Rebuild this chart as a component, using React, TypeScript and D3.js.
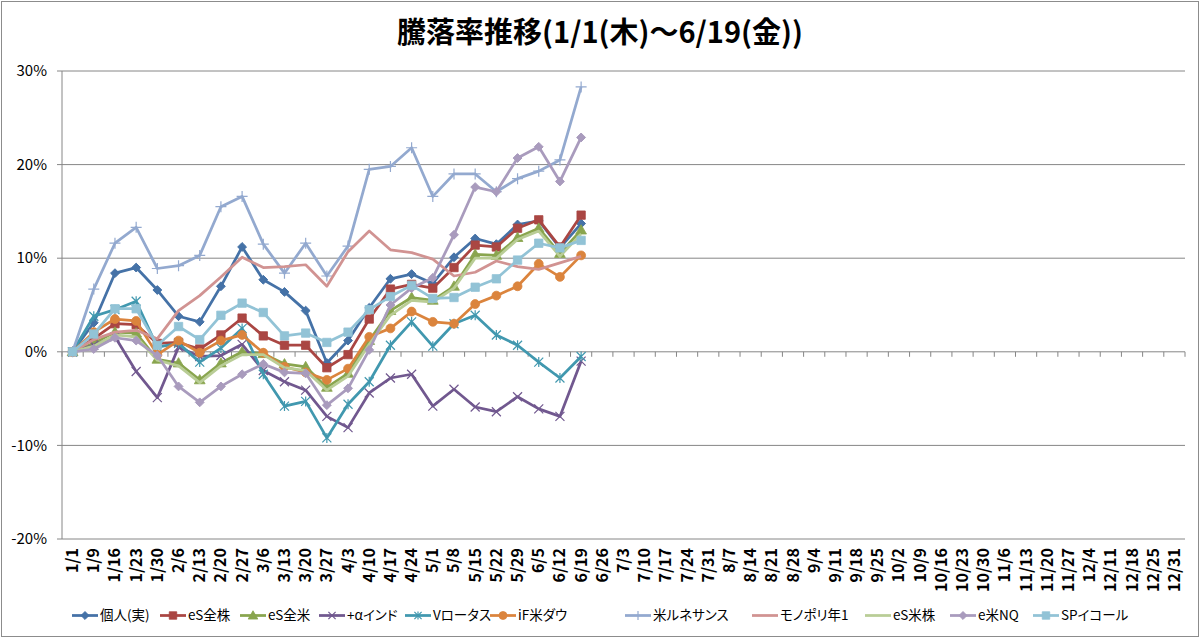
import React from "react";
import * as d3 from "d3";

const dates = [
  "1/1","1/9","1/16","1/23","1/30","2/6","2/13","2/20","2/27","3/6","3/13","3/20","3/27",
  "4/3","4/10","4/17","4/24","5/1","5/8","5/15","5/22","5/29","6/5","6/12","6/19","6/26",
  "7/3","7/10","7/17","7/24","7/31","8/7","8/14","8/21","8/28","9/4","9/11","9/18","9/25",
  "10/2","10/9","10/16","10/23","10/30","11/6","11/13","11/20","11/27","12/4","12/11","12/18","12/25","12/31",
];

const yTicks = [-20, -10, 0, 10, 20, 30];

const kojin = [0, 3.1, 8.4, 9.0, 6.6, 3.8, 3.2, 7.0, 11.2, 7.7, 6.4, 4.4, -1.2, 1.2, 4.7, 7.8, 8.3, 7.3, 10.1, 12.1, 11.5, 13.6, 14.0, 11.1, 13.7];
const esZenkabu = [0, 1.4, 3.0, 2.9, 0.9, 1.0, 0.3, 1.8, 3.6, 1.7, 0.7, 0.7, -1.7, -0.3, 3.5, 6.7, 7.2, 6.8, 9.0, 11.4, 11.2, 13.2, 14.1, 11.2, 14.6];
const esZenbei = [0, 0.9, 2.1, 2.0, -0.8, -1.2, -3.0, -1.2, 0.0, -0.2, -1.3, -1.6, -3.8, -2.3, 1.2, 4.4, 5.8, 5.5, 7.0, 10.4, 10.3, 12.2, 13.2, 10.5, 13.0];
const india = [0, 0.7, 1.6, -2.1, -4.9, 0.5, -0.5, -0.4, 0.8, -2.0, -3.2, -4.1, -6.9, -8.1, -4.4, -2.8, -2.4, -5.8, -4.0, -5.9, -6.4, -4.8, -6.1, -6.9, -1.0];
const lotus = [0, 3.8, 4.5, 5.4, 0.5, 0.9, -1.1, 0.4, 2.5, -2.4, -5.8, -5.3, -9.2, -5.6, -3.2, 0.7, 3.2, 0.6, 3.0, 3.9, 1.8, 0.7, -1.1, -2.8, -0.5];
const ifDow = [0, 2.1, 3.5, 3.3, -0.3, 1.2, -0.1, 1.2, 1.8, -0.1, -1.6, -2.2, -3.0, -1.8, 1.6, 2.5, 4.3, 3.2, 3.0, 5.1, 6.0, 7.0, 9.4, 8.0, 10.3];
const renaissance = [0, 6.7, 11.6, 13.3, 8.9, 9.2, 10.3, 15.5, 16.6, 11.5, 8.4, 11.6, 8.1, 11.3, 19.5, 19.8, 21.8, 16.6, 19.0, 19.0, 17.1, 18.5, 19.3, 20.5, 28.3];
const monopoly = [0, 1.3, 2.1, 2.3, 1.4, 4.4, 6.0, 8.0, 10.1, 9.0, 9.1, 9.3, 7.0, 10.7, 12.9, 10.9, 10.6, 9.9, 8.1, 8.5, 9.7, 9.1, 8.8, 9.5, 10.2];
const esBeikabu = [0, 0.6, 1.8, 1.6, -0.9, -1.5, -3.3, -1.5, -0.3, -0.3, -1.7, -2.0, -4.1, -2.6, 0.8, 3.9, 5.5, 5.3, 6.8, 10.0, 10.0, 12.0, 12.9, 10.2, 12.6];
const eNQ = [0, 0.3, 1.5, 1.2, -0.4, -3.7, -5.4, -3.7, -2.4, -1.3, -2.2, -2.3, -5.7, -3.9, 0.2, 5.0, 6.8, 7.9, 12.5, 17.6, 17.1, 20.7, 21.9, 18.2, 22.9];
const spEqual = [0, 1.9, 4.6, 4.6, 0.7, 2.7, 1.3, 3.9, 5.2, 4.2, 1.7, 2.0, 1.0, 2.1, 4.5, 5.9, 7.1, 5.7, 5.8, 6.9, 7.8, 9.8, 11.6, 11.1, 11.9];

const seriesNames = ["個人(実)", "eS全株", "eS全米", "+αインド", "Vロータス", "iF米ダウ", "米ルネサンス", "モノポリ年1", "eS米株", "e米NQ", "SPイコール"];
const seriesValues = [kojin, esZenkabu, esZenbei, india, lotus, ifDow, renaissance, monopoly, esBeikabu, eNQ, spEqual];
const seriesColors = ["#4572A7", "#AA4643", "#89A54E", "#71588F", "#4198AF", "#DB843D", "#93A9CF", "#D19392", "#B9CD96", "#A99BBD", "#92C3D6"];
const seriesMarkers = ["diamond", "square", "triangle", "x", "asterisk", "circle", "plus", "none", "none", "diamond", "square"];

const legendX = [72, 160, 240, 319, 405, 490, 625, 752, 865, 950, 1033];

const W = 1200, H = 638;
const left = 62, right = 1185, top = 71, bottom = 539;

const FONT = "'Noto Sans CJK JP', 'Noto Sans', sans-serif";

function Marker({ kind, color, x, y, legend }: { kind: string; color: string; x: number; y: number; legend?: boolean }) {
  const s = legend ? 0.8 : 1;
  if (kind === "none") return null;
  if (kind === "diamond") {
    const p = d3.symbol().type(d3.symbolDiamond2).size(50 * s)();
    return <path d={p || ""} transform={`translate(${x},${y})`} fill={color} stroke={color} strokeWidth={1} />;
  }
  if (kind === "square") {
    const p = d3.symbol().type(d3.symbolSquare).size(70 * s)();
    return <path d={p || ""} transform={`translate(${x},${y})`} fill={color} stroke={color} strokeWidth={0.8} />;
  }
  if (kind === "triangle") {
    const p = d3.symbol().type(d3.symbolTriangle).size(50 * s)();
    return <path d={p || ""} transform={`translate(${x},${y + 0.8})`} fill={color} stroke={color} strokeWidth={0.8} />;
  }
  if (kind === "circle") {
    const p = d3.symbol().type(d3.symbolCircle).size(62 * s)();
    return <path d={p || ""} transform={`translate(${x},${y})`} fill={color} stroke={color} strokeWidth={0.8} />;
  }
  const r = 4.5 * s;
  let d = "";
  if (kind === "x" || kind === "asterisk") d += `M${-r},${-r}L${r},${r}M${-r},${r}L${r},${-r}`;
  if (kind === "asterisk") d += `M0,${-r - 0.5}L0,${r + 0.5}`;
  if (kind === "plus") {
    const q = 5.5 * s;
    d = `M${-q},0L${q},0M0,${-q}L0,${q}`;
  }
  return <path d={d} transform={`translate(${x},${y})`} fill="none" stroke={color} strokeWidth={1.2} />;
}

export default function App() {
  const x = d3.scaleBand<string>().domain(dates).range([left, right]).padding(0);
  const y = d3.scaleLinear().domain([-20, 30]).range([bottom, top]);
  const bw = x.bandwidth();
  const cx = (i: number) => (x(dates[i]) as number) + bw / 2;
  const line = d3.line<number>().x((_, i) => cx(i)).y((v) => y(v));
  const y0 = y(0);

  return (
    <svg width={W} height={H} style={{ position: "absolute", left: 0, top: 0, background: "#fff" }} fontFamily={FONT}>
      <rect x={1.5} y={1.5} width={W - 3} height={H - 3} fill="#fff" stroke="#8c8c8c" strokeWidth={1} />
      <text x={600} y={43} textAnchor="middle" fontSize={29} fontWeight="bold" fill="#000">
        騰落率推移(1/1(木)～6/19(金))
      </text>

      {yTicks.filter((t) => t !== 0).map((t) => (
        <line key={t} x1={left} x2={right} y1={y(t)} y2={y(t)} stroke="#868686" strokeWidth={1} />
      ))}
      <line x1={left} x2={left} y1={top} y2={bottom} stroke="#868686" strokeWidth={1} />
      {yTicks.map((t) => (
        <g key={"yt" + t}>
          <line x1={left - 5} x2={left} y1={y(t)} y2={y(t)} stroke="#868686" strokeWidth={1} />
          <text x={47} y={y(t)} dy="0.35em" textAnchor="end" fontSize={15} fill="#000">{t}%</text>
        </g>
      ))}

      <line x1={left} x2={right} y1={y0} y2={y0} stroke="#868686" strokeWidth={1} />
      {d3.range(dates.length + 1).map((k) => (
        <line key={"xt" + k} x1={left + k * bw} x2={left + k * bw} y1={y0} y2={y0 + 5} stroke="#868686" strokeWidth={1} />
      ))}
      {dates.map((d, i) => (
        <text key={"xl" + d} transform={`translate(${cx(i) + 5.5},${548}) rotate(-90)`} textAnchor="end" fontSize={16} fontWeight="bold" fill="#000">
          {d}
        </text>
      ))}

      {seriesValues.map((vals, si) => (
        <g key={"s" + si}>
          <path d={line(vals) || ""} fill="none" stroke={seriesColors[si]} strokeWidth={2.75} strokeLinejoin="round" />
          {vals.map((v, i) => (
            <Marker key={i} kind={seriesMarkers[si]} color={seriesColors[si]} x={cx(i)} y={y(v)} />
          ))}
        </g>
      ))}

      {seriesNames.map((n, si) => (
        <g key={"lg" + si}>
          <line x1={legendX[si]} x2={legendX[si] + 26} y1={615.5} y2={615.5} stroke={seriesColors[si]} strokeWidth={2.75} />
          <Marker kind={seriesMarkers[si]} color={seriesColors[si]} x={legendX[si] + 13} y={615.5} legend />
          <text x={legendX[si] + 28} y={615.5} dy="0.36em" fontSize={13.5} fill="#000" style={{ fontFeatureSettings: "'palt'" }}>{n}</text>
        </g>
      ))}
    </svg>
  );
}
